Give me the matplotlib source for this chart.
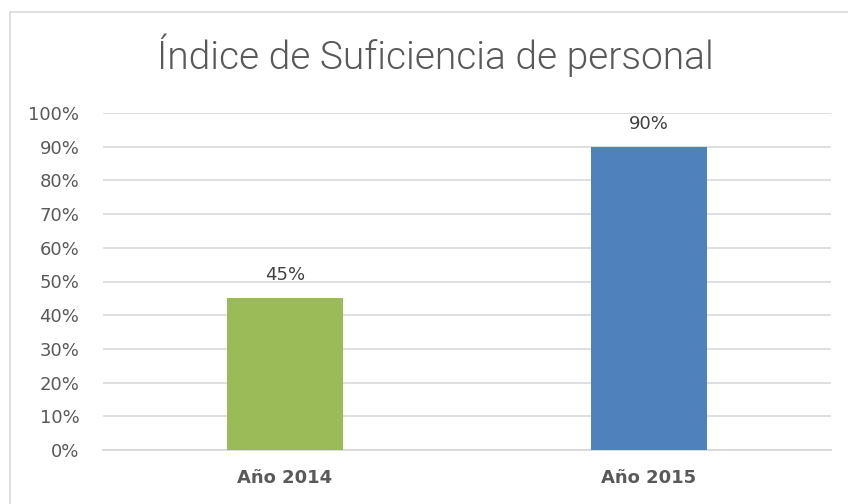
import matplotlib.pyplot as plt
from matplotlib.lines import Line2D
from matplotlib.ticker import PercentFormatter

categories = ["Año 2014", "Año 2015"]
values = [0.45, 0.90]
labels = ["45%", "90%"]
colors = ["#9BBB59", "#4F81BD"]
yticks = [0, 0.1, 0.2, 0.3, 0.4, 0.5, 0.6, 0.7, 0.8, 0.9, 1.0]

fig = plt.figure(figsize=(8.48, 5.04), dpi=100)
ax = fig.add_axes([103 / 848, 54 / 504, 728 / 848, 337 / 504])

x = list(range(len(categories)))
bars = ax.bar(x, values, width=0.316, color=colors, zorder=3)

for b, lab in zip(bars, labels):
    ax.annotate(lab, (b.get_x() + b.get_width() / 2, b.get_height()),
                xytext=(0, 10), textcoords="offset points", ha="center", va="bottom",
                fontsize=13, color="#404040")

ax.set_xlim(-0.5, 1.5)
ax.set_ylim(0, 1.0)
ax.set_yticks(yticks)
ax.yaxis.set_major_formatter(PercentFormatter(1.0, decimals=0))
ax.set_xticks(x)
ax.set_xticklabels(categories, fontsize=13, fontweight="bold", color="#595959")
ax.tick_params(axis="y", labelsize=13, labelcolor="#595959", length=0, pad=17)
ax.tick_params(axis="x", length=0, pad=14)
ax.grid(axis="y", color="#D9D9D9", linewidth=1.2, zorder=0)
for s in ["top", "right", "left"]:
    ax.spines[s].set_visible(False)
ax.spines["bottom"].set_color("#D9D9D9")
ax.spines["bottom"].set_linewidth(1.4)

fig.text(435 / 848, 1 - 55 / 504, "Índice de Suficiencia de personal",
         ha="center", va="center", fontsize=28, color="#595959",
         family="Roboto", fontweight=300)

# chart frame (cut off at right and bottom)
fig.add_artist(Line2D([10 / 848, 1], [1 - 12 / 504, 1 - 12 / 504], color="#D9D9D9", linewidth=1.2))
fig.add_artist(Line2D([10 / 848, 10 / 848], [0, 1 - 12 / 504], color="#D9D9D9", linewidth=1.2))

fig.savefig("out.png", dpi=100)
